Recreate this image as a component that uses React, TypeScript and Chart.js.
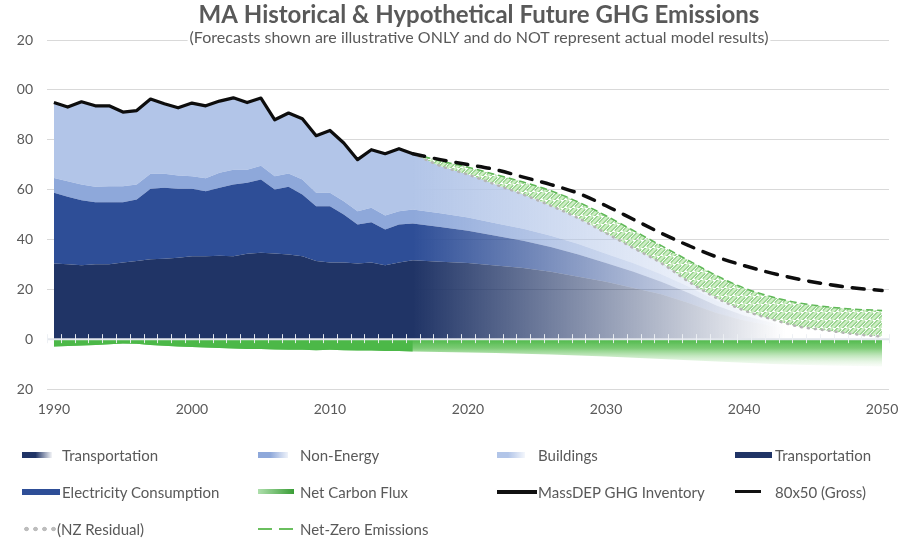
import React, { useEffect, useRef } from 'react';
import { Chart, registerables } from 'chart.js';

Chart.register(...registerables);

const TITLE = 'MA Historical & Hypothetical Future GHG Emissions';
const SUBTITLE = '(Forecasts shown are illustrative ONLY and do NOT represent actual model results)';

// ---------- Historical (annual) ----------
const HIST_YEARS = [
  1990, 1991, 1992, 1993, 1994, 1995, 1996, 1997, 1998, 1999,
  2000, 2001, 2002, 2003, 2004, 2005, 2006, 2007, 2008, 2009,
  2010, 2011, 2012, 2013, 2014, 2015, 2016,
];
const HIST_TRANSPORTATION = [
  30.3, 30.0, 29.6, 30.0, 30.0, 30.7, 31.3, 32.0, 32.2, 32.7,
  33.3, 33.3, 33.5, 33.3, 34.3, 34.7, 34.4, 34.0, 33.3, 31.3,
  30.7, 30.7, 30.3, 30.7, 29.6, 30.7, 31.6,
];
const HIST_ELECTRICITY = [
  28.4, 27.1, 26.1, 24.9, 24.9, 24.2, 24.7, 28.3, 28.5, 27.6,
  27.0, 26.0, 27.2, 28.7, 28.4, 29.3, 25.6, 27.1, 24.7, 22.0,
  22.6, 19.3, 15.7, 16.2, 14.4, 15.3, 14.8,
];
const HIST_NON_ENERGY = [
  6.0, 6.2, 6.3, 6.2, 6.4, 6.4, 6.0, 6.0, 5.6, 5.3,
  5.0, 5.2, 6.0, 6.0, 5.3, 5.6, 5.3, 5.3, 6.0, 5.4,
  5.4, 5.3, 5.3, 5.8, 5.6, 5.3, 5.6,
];
const HIST_BUILDINGS = [
  30.2, 29.8, 33.2, 32.5, 32.3, 29.8, 29.7, 30.0, 28.1, 27.2,
  29.4, 29.1, 28.8, 28.8, 26.9, 27.1, 22.7, 24.3, 24.4, 22.9,
  25.0, 23.4, 20.7, 23.3, 24.8, 25.1, 22.4,
];
const MASSDEP_INVENTORY = [
  94.9, 93.1, 95.2, 93.6, 93.6, 91.1, 91.7, 96.3, 94.4, 92.8,
  94.7, 93.6, 95.5, 96.8, 94.9, 96.7, 88.0, 90.7, 88.4, 81.6,
  83.7, 78.7, 72.0, 76.0, 74.4, 76.4, 74.4,
];
const HIST_CARBON_FLUX = [
  -3.0, -2.8, -2.6, -2.3, -2.0, -1.7, -1.8, -2.3, -2.7, -3.0,
  -3.2, -3.4, -3.6, -3.8, -4.0, -4.0, -4.2, -4.3, -4.3, -4.5,
  -4.3, -4.5, -4.6, -4.6, -4.8, -4.8, -5.0,
];

// ---------- Hypothetical future (every 2 years, starts at last historical year) ----------
const FC_YEARS = [
  2016, 2018, 2020, 2022, 2024, 2026, 2028, 2030, 2032,
  2034, 2036, 2038, 2040, 2042, 2044, 2046, 2048, 2050,
];
const FC_TRANSPORTATION = [31.6, 31.0, 30.5, 29.5, 28.5, 27.0, 25.0, 23.0, 20.5, 18.0, 14.5, 10.5, 7.5, 5.3, 3.3, 2.5, 1.3, 0.7];
const FC_ELECTRICITY = [14.8, 14.0, 13.0, 12.0, 11.0, 10.0, 9.0, 7.5, 6.5, 5.0, 4.0, 3.0, 2.0, 1.3, 0.8, 0.4, 0.2, 0.1];
const FC_NON_ENERGY = [5.6, 5.5, 5.3, 5.0, 4.8, 4.5, 4.2, 3.8, 3.4, 3.0, 2.5, 2.0, 1.5, 1.0, 0.6, 0.3, 0.2, 0.1];
const FC_BUILDINGS = [22.4, 19.0, 17.2, 15.5, 13.7, 12.0, 10.3, 8.2, 6.1, 4.5, 2.0, 1.0, 0.5, 0.4, 0.3, 0.3, 0.3, 0.1];
const GROSS_80X50 = [74.4, 72.0, 70.0, 68.0, 65.0, 62.0, 58.5, 53.5, 48.0, 42.5, 37.5, 33.0, 29.5, 26.5, 24.0, 22.0, 20.5, 19.5];
const NET_ZERO = [74.4, 71.5, 69.0, 66.0, 63.0, 59.5, 55.0, 49.5, 43.5, 37.5, 31.5, 25.5, 20.5, 17.0, 14.5, 13.0, 12.0, 11.5];
const NZ_RESIDUAL = [74.4, 69.5, 66.0, 62.0, 58.0, 53.5, 48.5, 42.5, 36.5, 30.5, 23.0, 16.5, 11.5, 8.0, 5.0, 3.5, 2.0, 1.0];
const FC_CARBON_FLUX = [-5.0, -5.2, -5.4, -5.6, -5.9, -6.2, -6.6, -7.0, -7.5, -8.0, -8.5, -9.0, -9.5, -10.0, -10.3, -10.6, -10.8, -11.0];

// ---------- Axes ----------
const X_TICKS = [1990, 2000, 2010, 2020, 2030, 2040, 2050];
const Y_TICKS = [-20, 0, 20, 40, 60, 80, 100, 120];
const Y_TICK_LABELS = ['20', '0', '20', '40', '60', '80', '00', '20'];

// ---------- Legend ----------
const LEGEND_LABELS = [
  'Transportation', 'Non-Energy', 'Buildings', 'Transportation',
  'Electricity Consumption', 'Net Carbon Flux', 'MassDEP GHG Inventory', '80x50 (Gross)',
  '(NZ Residual)', 'Net-Zero Emissions',
];

// ---------- styles ----------
const C_TRANS = '32,52,102';
const C_ELEC = '46,78,151';
const C_NONE = '142,168,218';
const C_BLDG = '178,197,232';
const C_FLUX = '76,184,72';
const TEXT = '#595959';
const FONT = 'Lato, "Open Sans", sans-serif';
const FADE_START = 2016;
const FADE_END = 2043;

const SWATCHES: { w: number; h: number; bg: string; text: number }[] = [
  { w: 30, h: 6, text: 40, bg: `linear-gradient(to right, rgb(${C_TRANS}) 0%, rgb(${C_TRANS}) 45%, rgba(${C_TRANS},0.05) 100%)` },
  { w: 30, h: 6, text: 42, bg: `linear-gradient(to right, rgb(${C_NONE}) 0%, rgb(${C_NONE}) 40%, rgba(${C_NONE},0.15) 100%)` },
  { w: 28, h: 6, text: 41, bg: `linear-gradient(to right, rgb(${C_BLDG}) 0%, rgb(${C_BLDG}) 40%, rgba(${C_BLDG},0.15) 100%)` },
  { w: 37, h: 6, text: 40, bg: `rgb(${C_TRANS})` },
  { w: 38, h: 6, text: 40, bg: `rgb(${C_ELEC})` },
  { w: 36, h: 5, text: 42, bg: `linear-gradient(to right, rgba(${C_FLUX},0.45), rgb(58,157,54))` },
  { w: 40, h: 4, text: 41, bg: '#111' },
  { w: 26, h: 3, text: 40, bg: '#111' },
  { w: 36, h: 6, text: 35, bg: 'radial-gradient(circle, #bdbdbd 0, #bdbdbd 2px, transparent 2.6px) 0 0 / 9px 6px repeat-x' },
  { w: 38, h: 2, text: 42, bg: 'repeating-linear-gradient(to right, #6abf5e 0, #6abf5e 14px, transparent 14px, transparent 21px)' },
];
const LEGEND_COLS = '236px 239px 238px 160px';

function makeHatch(): CanvasPattern | string {
  const s = 8;
  const c = document.createElement('canvas');
  c.width = s;
  c.height = s;
  const g = c.getContext('2d');
  if (!g) return 'rgba(150,210,140,0.6)';
  const path = () => {
    g.beginPath();
    for (const k of [-s, 0, s]) {
      g.moveTo(k, s);
      g.lineTo(k + s, 0);
    }
  };
  path();
  g.strokeStyle = '#78c46c';
  g.lineWidth = 4.6;
  g.stroke();
  path();
  g.strokeStyle = '#cdeec4';
  g.lineWidth = 2.8;
  g.stroke();
  const p = g.createPattern(c, 'repeat');
  return p || 'rgba(150,210,140,0.6)';
}

// solid up to FADE_START, fading to transparent at FADE_END
const fadeFill = (rgb: string) => (c: any) => {
  const chart = c.chart;
  const x = chart.scales && chart.scales.x;
  if (!x || !chart.chartArea) return `rgba(${rgb},0.6)`;
  const g = chart.ctx.createLinearGradient(x.getPixelForValue(FADE_START), 0, x.getPixelForValue(FADE_END), 0);
  g.addColorStop(0, `rgba(${rgb},1)`);
  g.addColorStop(1, `rgba(${rgb},0)`);
  return g;
};

const fluxFill = (c: any) => {
  const chart = c.chart;
  const y = chart.scales && chart.scales.y;
  if (!y || !chart.chartArea) return `rgba(${C_FLUX},0.6)`;
  const g = chart.ctx.createLinearGradient(0, y.getPixelForValue(0), 0, y.getPixelForValue(-12));
  g.addColorStop(0, `rgba(${C_FLUX},1)`);
  g.addColorStop(0.3, `rgba(100,194,92,0.85)`);
  g.addColorStop(1, `rgba(215,240,210,0)`);
  return g;
};

const pts = (xs: number[], ys: number[]) => xs.map((x, i) => ({ x, y: ys[i] }));
// historical series followed by its forecast continuation (forecast starts at the last historical year)
const joined = (hist: number[], fc: number[]) => pts(HIST_YEARS, hist).concat(pts(FC_YEARS, fc).slice(1));

const zeroAxisPlugin = {
  id: 'zeroAxis',
  afterDatasetsDraw(chart: any) {
    const { ctx } = chart;
    const x = chart.scales.x;
    const y = chart.scales.y;
    const y0 = y.getPixelForValue(0);
    ctx.save();
    ctx.strokeStyle = 'rgba(226,230,236,1)';
    ctx.lineWidth = 2;
    ctx.beginPath();
    ctx.moveTo(x.getPixelForValue(x.min), y0);
    ctx.lineTo(x.getPixelForValue(x.max), y0);
    ctx.stroke();
    ctx.strokeStyle = 'rgba(236,239,243,0.95)';
    ctx.lineWidth = 1;
    ctx.beginPath();
    for (let v = x.min; v <= x.max + 1e-6; v += 1) {
      const px = Math.round(x.getPixelForValue(v)) + 0.5;
      ctx.moveTo(px, y0 - 5);
      ctx.lineTo(px, y0 + 4);
    }
    ctx.stroke();
    ctx.restore();
  },
};

const titlePlugin = {
  id: 'titles',
  afterDraw(chart: any) {
    const { ctx } = chart;
    const cx = 479;
    ctx.save();
    ctx.textAlign = 'center';
    ctx.textBaseline = 'middle';
    ctx.font = `bold 24px ${FONT}`;
    ctx.fillStyle = TEXT;
    ctx.fillText(TITLE, cx, 15);
    ctx.font = `16px ${FONT}`;
    const w = ctx.measureText(SUBTITLE).width;
    ctx.fillStyle = '#ffffff';
    ctx.fillRect(cx - w / 2 - 2, 30, w + 4, 18);
    ctx.fillStyle = TEXT;
    ctx.fillText(SUBTITLE, cx, 38);
    ctx.restore();
  },
};

export default function App() {
  const ref = useRef<HTMLCanvasElement>(null);

  useEffect(() => {
    const canvas = ref.current;
    if (!canvas) return;
    Chart.defaults.font.family = FONT;
    const hatch = makeHatch();
    const area = { borderWidth: 0, borderColor: 'rgba(0,0,0,0)' };

    const datasets: any[] = [
      {
        label: 'MassDEP GHG Inventory', stack: 'inv', data: pts(HIST_YEARS, MASSDEP_INVENTORY),
        borderColor: '#0d0d0d', borderWidth: 3.2, borderJoinStyle: 'round', fill: false,
      },
      {
        label: '80x50 (Gross)', stack: 'gross', data: pts(FC_YEARS, GROSS_80X50),
        borderColor: '#0d0d0d', borderWidth: 3.5, borderDash: [12, 10], borderCapStyle: 'round',
        cubicInterpolationMode: 'monotone', fill: false,
      },
      {
        label: '(NZ Residual)', stack: 'res', data: pts(FC_YEARS, NZ_RESIDUAL),
        borderColor: '#b5b5b5', borderWidth: 2.5, borderDash: [1, 6], borderCapStyle: 'round',
        cubicInterpolationMode: 'monotone', fill: false,
      },
      {
        label: 'Net-Zero Emissions', stack: 'nz', data: pts(FC_YEARS, NET_ZERO),
        borderColor: '#5fb857', borderWidth: 1.5, borderDash: [7, 4],
        cubicInterpolationMode: 'monotone', fill: '-1', backgroundColor: hatch,
      },
      {
        label: 'Net Carbon Flux', stack: 'fluxH', data: pts(HIST_YEARS, HIST_CARBON_FLUX),
        ...area, backgroundColor: `rgb(${C_FLUX})`, fill: 'origin',
      },
      {
        label: 'Net Carbon Flux (forecast)', stack: 'fluxF', data: joined(HIST_CARBON_FLUX, FC_CARBON_FLUX),
        ...area, backgroundColor: fluxFill, fill: 'origin',
      },
      // emissions stack (bottom first): solid historically, fading over the forecast
      { label: 'Transportation', stack: 'ghg', data: joined(HIST_TRANSPORTATION, FC_TRANSPORTATION), ...area, backgroundColor: fadeFill(C_TRANS), fill: 'origin' },
      { label: 'Electricity Consumption', stack: 'ghg', data: joined(HIST_ELECTRICITY, FC_ELECTRICITY), ...area, backgroundColor: fadeFill(C_ELEC), fill: '-1' },
      { label: 'Non-Energy', stack: 'ghg', data: joined(HIST_NON_ENERGY, FC_NON_ENERGY), ...area, backgroundColor: fadeFill(C_NONE), fill: '-1' },
      { label: 'Buildings', stack: 'ghg', data: joined(HIST_BUILDINGS, FC_BUILDINGS), ...area, backgroundColor: fadeFill(C_BLDG), fill: '-1' },
    ];

    const chart = new Chart(canvas, {
      type: 'line',
      data: { datasets },
      options: {
        responsive: false,
        animation: false,
        devicePixelRatio: 1,
        layout: { padding: { left: 0, right: 13, top: 40, bottom: 120 } },
        elements: { point: { radius: 0, hoverRadius: 0 }, line: { tension: 0 } },
        plugins: {
          legend: { display: false },
          title: { display: false },
          tooltip: { enabled: false },
        },
        events: [],
        scales: {
          x: {
            type: 'linear',
            min: 1989.5,
            max: 2050.5,
            grid: { display: false, drawTicks: false },
            border: { display: false },
            afterBuildTicks: (s: any) => { s.ticks = X_TICKS.map((v) => ({ value: v })); },
            afterFit: (s: any) => { s.height = 30; s.paddingLeft = 0; s.paddingRight = 0; },
            ticks: {
              padding: 12,
              color: TEXT,
              font: { size: 14, family: FONT },
              maxRotation: 0,
              autoSkip: false,
              callback: (v: any) => String(v),
            },
          },
          y: {
            type: 'linear',
            stacked: true,
            min: -20,
            max: 120,
            afterBuildTicks: (s: any) => { s.ticks = Y_TICKS.map((v) => ({ value: v })); },
            afterFit: (s: any) => { s.width = 47; },
            grid: { color: '#d9d9d9', lineWidth: 1, drawTicks: false },
            border: { display: false },
            ticks: {
              padding: 14,
              color: TEXT,
              font: { size: 14, family: FONT },
              callback: (v: any) => {
                const i = Y_TICKS.indexOf(Number(v));
                return i >= 0 ? Y_TICK_LABELS[i] : '';
              },
            },
          },
        },
      } as any,
      plugins: [zeroAxisPlugin, titlePlugin],
    });

    return () => chart.destroy();
  }, []);

  return (
    <div style={{ position: 'fixed', left: 0, top: 0, width: 902, height: 539, background: '#fff', overflow: 'hidden' }}>
      <canvas ref={ref} width={902} height={539} style={{ position: 'absolute', left: 0, top: 0, width: 902, height: 539 }} />
      <div
        style={{
          position: 'absolute', left: 22, top: 436, display: 'grid',
          gridTemplateColumns: LEGEND_COLS, gridAutoRows: '37px',
          fontFamily: FONT, fontSize: 15, color: TEXT,
        }}
      >
        {LEGEND_LABELS.map((label, i) => {
          const s = SWATCHES[i];
          return (
            <div key={i} style={{ display: 'flex', alignItems: 'center', whiteSpace: 'nowrap' }}>
              <div style={{ width: s.text, flex: `0 0 ${s.text}px`, display: 'flex', alignItems: 'center' }}>
                <div style={{ width: s.w, height: s.h, background: s.bg }} />
              </div>
              <span>{label}</span>
            </div>
          );
        })}
      </div>
    </div>
  );
}
